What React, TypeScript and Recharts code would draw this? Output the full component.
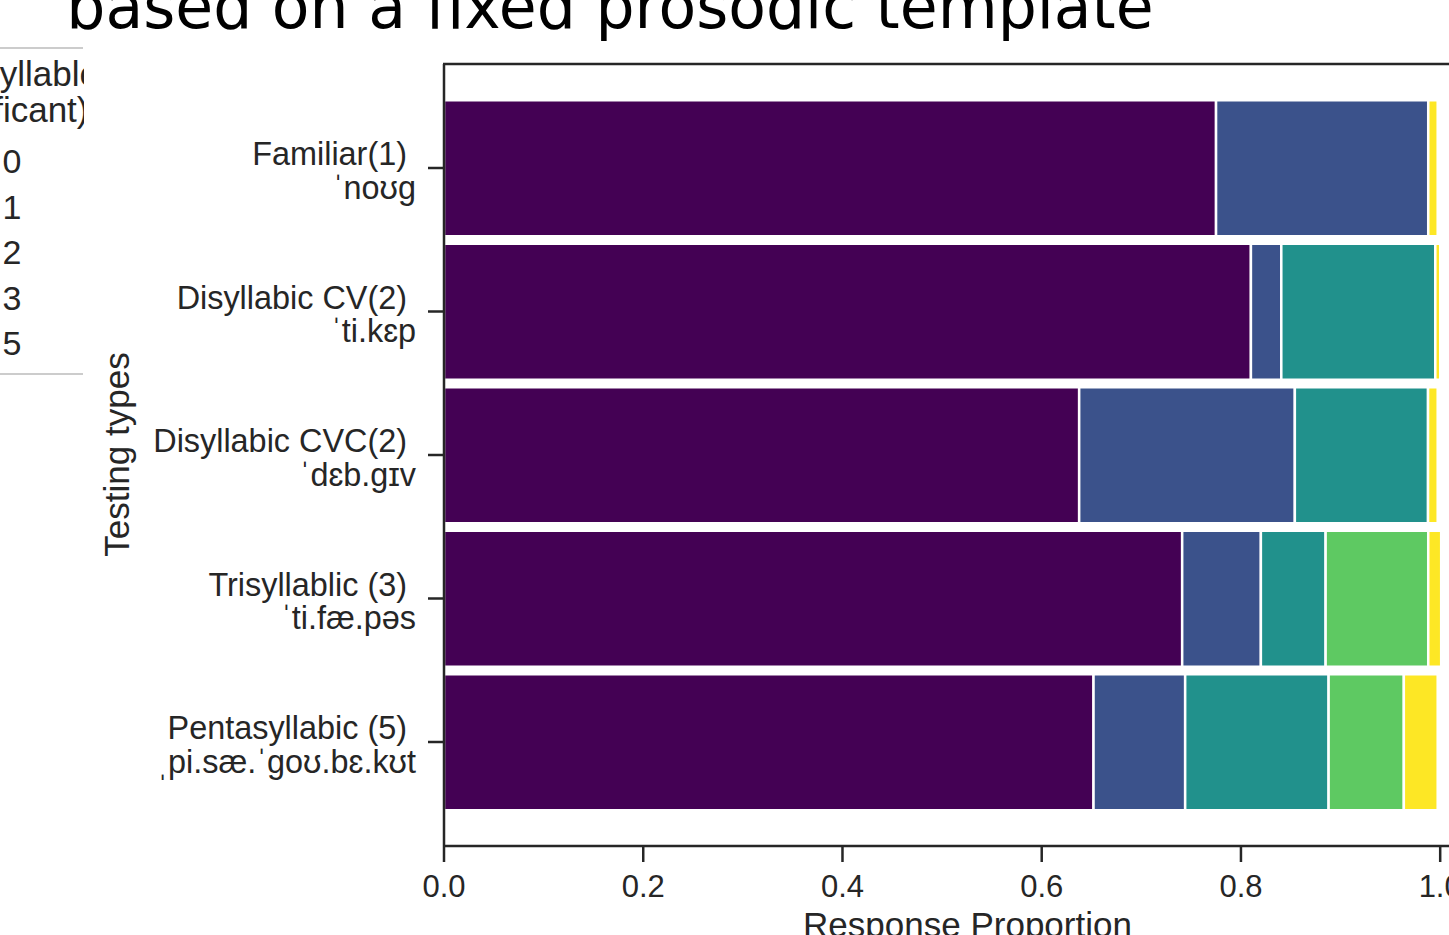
import React from 'react';
import { BarChart, Bar, XAxis, YAxis } from 'recharts';

const categories = ['Familiar(1)', 'Disyllabic CV(2)', 'Disyllabic CVC(2)', 'Trisyllablic (3)', 'Pentasyllabic (5)'];
const transcriptions = ['ˈnoʊg', 'ˈti.kɛp', 'ˈdɛb.gɪv', 'ˈti.fæ.pəs', 'ˌpi.sæ.ˈgoʊ.bɛ.kʊt'];
const seriesKeys = ['0', '1', '2', '3', '5'];
const seriesColors = ['#440154', '#3b528b', '#21918c', '#5ec962', '#fde725'];
const values0 = [0.775, 0.81, 0.6376, 0.741, 0.652];
const values1 = [0.213, 0.0305, 0.2165, 0.079, 0.092];
const values2 = [0, 0.1546, 0.1337, 0.065, 0.144];
const values3 = [0, 0, 0, 0.103, 0.0755];
const values5 = [0.0095, 0.005, 0.0097, 0.013, 0.034];
const xTicks = [0, 0.2, 0.4, 0.6, 0.8, 1.0];
const titleText = 'based on a fixed prosodic template';
const legendTitle = ['Syllable', '(significant)'];
const xLabel = 'Response Proportion';
const yLabel = 'Testing types';

const seriesValues = [values0, values1, values2, values3, values5];
const data = categories.map((name, i) => {
  const row: any = { name };
  seriesKeys.forEach((k, j) => { row[k] = seriesValues[j][i]; });
  return row;
});

const FONT = '"Liberation Sans", Arial, Helvetica, sans-serif';
const INK = '#262626';

const YTick = (props: any) => {
  const { x, y, payload } = props;
  const i = categories.indexOf(payload.value);
  return (
    <g>
      <text x={x - 9} y={y - 3} textAnchor="end" fontSize={32.4} fontFamily={FONT} fill={INK}>{payload.value}</text>
      <text x={x} y={y + 30.5} textAnchor="end" fontSize={32.4} fontFamily={FONT} fill={INK}>{transcriptions[i]}</text>
    </g>
  );
};

export default function App() {
  return (
    <div style={{ position: 'absolute', left: 0, top: 0, width: 1449, height: 935, overflow: 'hidden', background: '#fff' }}>
      <BarChart
        width={1500}
        height={935}
        data={data}
        layout="vertical"
        margin={{ top: 64, right: 10, bottom: 29, left: 0 }}
        barSize={136}
      >
        <XAxis
          type="number"
          domain={[0, 1.05]}
          ticks={xTicks}
          allowDataOverflow
          tickFormatter={(v: number) => v.toFixed(1)}
          height={60}
          tickSize={16}
          tickMargin={13}
          axisLine={{ stroke: INK, strokeWidth: 2.5 }}
          tickLine={{ stroke: INK, strokeWidth: 2.5 }}
          tick={{ fontSize: 31, fill: INK, fontFamily: FONT }}
        />
        <YAxis
          type="category"
          dataKey="name"
          width={444}
          padding={{ top: 32.25, bottom: 32.25 }}
          tickSize={16}
          tickMargin={12}
          axisLine={{ stroke: INK, strokeWidth: 2.5 }}
          tickLine={{ stroke: INK, strokeWidth: 2.5 }}
          tick={<YTick />}
          interval={0}
        />
        {seriesKeys.map((k, j) => (
          <Bar key={k} dataKey={k} stackId="a" fill={seriesColors[j]} stroke="#ffffff" strokeWidth={2.5} isAnimationActive={false} />
        ))}
      </BarChart>
      <svg width={1449} height={935} style={{ position: 'absolute', left: 0, top: 0, pointerEvents: 'none' }}>
        <defs>
          <clipPath id="legclip">
            <rect x={-200} y={0} width={284} height={935} />
          </clipPath>
        </defs>
        <text x={610} y={28} textAnchor="middle" fontSize={61.6} fontFamily='"DejaVu Sans", sans-serif' fill="#000">{titleText}</text>
        <line x1={443} y1={64} x2={1449} y2={64} stroke={INK} strokeWidth={2.5} />
        <g clipPath="url(#legclip)">
          <line x1={-50} y1={48} x2={83} y2={48} stroke="#cccccc" strokeWidth={2} />
          <line x1={-50} y1={374} x2={83} y2={374} stroke="#cccccc" strokeWidth={2} />
          <text x={99} y={86} textAnchor="end" fontSize={35} fontFamily={FONT} fill={INK}>{legendTitle[0]}</text>
          <text x={88.5} y={121.5} textAnchor="end" fontSize={35} fontFamily={FONT} fill={INK}>{legendTitle[1]}</text>
          {seriesKeys.map((k, j) => (
            <g key={k}>
              <rect x={-40} y={151 + j * 45.5} width={30} height={20} fill={seriesColors[j]} />
              <text x={2.5} y={173 + j * 45.5} fontSize={34} fontFamily={FONT} fill={INK}>{k}</text>
            </g>
          ))}
        </g>
        <text transform="translate(129,454.5) rotate(-90)" textAnchor="middle" fontSize={35} fontFamily={FONT} fill={INK}>{yLabel}</text>
        <text x={967.5} y={937} textAnchor="middle" fontSize={35} fontFamily={FONT} fill={INK}>{xLabel}</text>
      </svg>
    </div>
  );
}
